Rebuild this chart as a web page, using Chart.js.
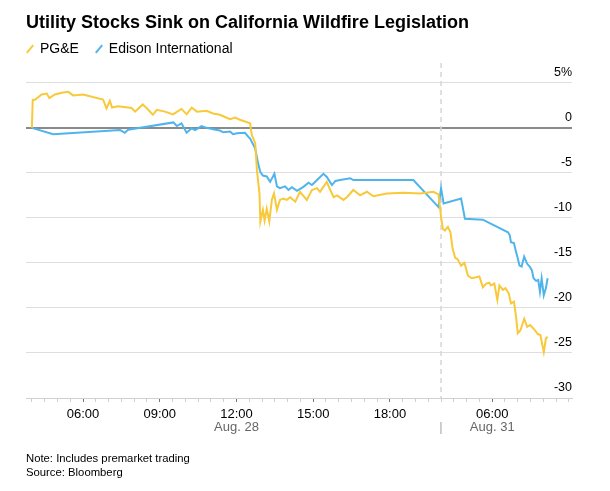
<!DOCTYPE html>
<html>
<head>
<meta charset="utf-8">
<script src="https://cdn.jsdelivr.net/npm/chart.js@4.4.0/dist/chart.umd.min.js"></script>
<style>
  body { margin: 0; background: #fff; }
  #wrap { position: relative; width: 610px; height: 491px; font-family: "Liberation Sans", Arial, sans-serif; color: #000; }
  #chart { position: absolute; left: 0; top: 0; }
  .title { position: absolute; left: 26px; top: 11px; font-size: 18px; line-height: 22px; font-weight: bold; }
  .legend { position: absolute; left: 26px; top: 39px; font-size: 14px; line-height: 18px; white-space: nowrap; }
  .legend .item { display: inline-block; margin-right: 12px; }
  .legend .sw { display: inline-block; width: 2px; height: 10px; margin: 0 9px 0 3px; transform: rotate(40deg); vertical-align: -1px; }
  .note { position: absolute; left: 26px; top: 452px; font-size: 11.3px; line-height: 13.5px; }
</style>
</head>
<body>
<div id="wrap">
  <canvas id="chart" width="610" height="491"></canvas>
  <div class="title">Utility Stocks Sink on California Wildfire Legislation</div>
  <div class="legend">
    <span class="item"><span class="sw" style="background:#f8c93a"></span>PG&amp;E</span>
    <span class="item"><span class="sw" style="background:#4fb4ec"></span>Edison International</span>
  </div>
  <div class="note">Note: Includes premarket trading<br>Source: Bloomberg</div>
</div>
<script>
// Thời gian giao dịch (ngày giờ) và % thay đổi của từng mã
const pgeTimes = [
  '28 04:00', '28 04:02', '28 04:08', '28 04:23', '28 04:35', '28 04:41', '28 04:54', '28 05:10',
  '28 05:25', '28 05:37', '28 06:00', '28 06:47', '28 06:55', '28 07:03', '28 07:08', '28 07:22',
  '28 07:54', '28 08:02', '28 08:20', '28 08:29', '28 08:44', '28 08:53', '28 09:12', '28 09:31',
  '28 09:51', '28 10:03', '28 10:15', '28 10:27', '28 10:50', '28 11:05', '28 11:21', '28 11:33',
  '28 11:45', '28 11:57', '28 12:08', '28 12:20', '28 12:32', '28 12:36', '28 12:44', '28 12:48', '28 12:54', '28 12:56',
  '28 13:02', '28 13:06', '28 13:11', '28 13:17', '28 13:23', '28 13:28', '28 13:35', '28 13:42',
  '28 13:50', '28 13:58', '28 14:06', '28 14:18', '28 14:29', '28 14:45', '28 14:57', '28 15:09',
  '28 15:16', '28 15:32', '28 15:40', '28 15:48', '28 15:56', '28 16:11', '28 16:19', '28 16:34',
  '28 16:50', '28 17:06', '28 17:21', '28 17:53', '28 18:32', '28 19:11', '28 19:42', '28 19:54',
  '31 04:00', '31 04:04', '31 04:09', '31 04:16', '31 04:22', '31 04:27', '31 04:33', '31 04:39',
  '31 04:47', '31 04:55', '31 05:03', '31 05:12', '31 05:22', '31 05:30', '31 05:38', '31 05:46',
  '31 05:53', '31 05:57', '31 06:05', '31 06:12', '31 06:17', '31 06:25', '31 06:31', '31 06:39',
  '31 06:44', '31 06:51', '31 06:56', '31 07:00', '31 07:06', '31 07:15', '31 07:22', '31 07:29',
  '31 07:39', '31 07:47', '31 07:53', '31 08:01', '31 08:06', '31 08:10'
];
const pgeValues = [
  0, 3.1, 3.15, 3.7, 3.8, 3.3, 3.7, 3.9,
  4.0, 3.6, 3.7, 3.15, 2.15, 3.0, 2.25, 2.4,
  2.2, 1.8, 2.6, 2.2, 1.45, 2.0, 1.8, 1.5,
  2.1, 1.5, 2.25, 1.8, 1.9, 1.6, 1.45, 1.2,
  0.95, 1.15, 0.9, 0.7, 0.5, -0.8, -1.7, -4.7, -7.3, -10.4,
  -9.1, -10.3, -9.0, -10.4, -8.0, -7.3, -9.1, -8.0,
  -7.85, -8.0, -7.7, -8.2, -7.1, -8.0, -6.9, -6.7,
  -7.1, -6.0, -6.9, -7.7, -7.5, -8.0, -7.7, -6.9,
  -7.5, -7.1, -7.6, -7.3, -7.2, -7.3, -7.1, -7.4,
  -9.9, -11.2, -11.4, -11.0, -11.6, -13.4, -14.4, -14.6,
  -15.3, -15.0, -16.4, -16.7, -16.6, -16.5, -17.7, -17.3,
  -17.2, -17.5, -17.3, -19.1, -17.5, -18.0, -17.8, -18.4,
  -19.5, -19.3, -21.0, -22.8, -22.5, -21.2, -22.1, -21.9,
  -22.4, -22.9, -23.0, -24.9, -23.4, -23.2
];
const sceTimes = [
  '28 04:00', '28 04:50', '28 07:27', '28 07:38', '28 07:46', '28 09:32', '28 09:40', '28 09:51',
  '28 10:03', '28 10:15', '28 10:23', '28 10:38', '28 10:50', '28 11:05', '28 11:21', '28 11:29',
  '28 11:45', '28 11:52', '28 12:01', '28 12:20', '28 12:28', '28 12:32', '28 12:44', '28 12:51',
  '28 12:56', '28 13:02', '28 13:11', '28 13:19', '28 13:29', '28 13:35', '28 13:42', '28 13:54',
  '28 14:02', '28 14:10', '28 14:22', '28 14:37', '28 14:49', '28 14:57', '28 15:09', '28 15:24',
  '28 15:32', '28 15:44', '28 15:52', '28 16:03', '28 16:27', '28 16:34', '28 18:55', '28 19:54',
  '31 04:00', '31 04:06', '31 04:47', '31 04:56', '31 05:38', '31 06:37', '31 06:41', '31 06:44',
  '31 06:51', '31 06:56', '31 07:00', '31 07:04', '31 07:09', '31 07:15', '31 07:22', '31 07:28',
  '31 07:33', '31 07:37', '31 07:43', '31 07:48', '31 07:52', '31 07:56', '31 08:01', '31 08:06',
  '31 08:10'
];
const sceValues = [
  0, -0.7, -0.25, -0.55, -0.2, 0.6, 0.2, 0.5,
  -0.55, -0.05, -0.25, 0.2, 0.0, -0.15, -0.3, -0.5,
  -0.4, -0.7, -0.6, -0.55, -1.0, -1.2, -2.3, -4.0,
  -4.9, -5.3, -5.4, -6.0, -5.1, -6.5, -6.7, -6.5,
  -6.9, -6.6, -7.0, -6.55, -6.1, -6.35, -5.8, -5.1,
  -5.45, -6.35, -5.9, -5.8, -5.6, -5.8, -5.8, -8.8,
  -6.7, -8.4, -7.85, -10.1, -10.2, -11.6, -11.9, -12.7,
  -12.8, -13.8, -14.5, -15.3, -15.4, -14.3, -15.1, -15.4,
  -15.8, -16.7, -17.0, -16.9, -18.2, -16.7, -18.6, -17.8,
  -16.7
];

// Nhãn trục
const yTicks = [5, 0, -5, -10, -15, -20, -25, -30];
const hourTicks = [6, 9, 12, 15, 18, 22];
const hourLabels = ['06:00', '09:00', '12:00', '15:00', '18:00', '06:00'];
const dayTicks = [12, 20, 22];
const dayLabels = ['Aug. 28', '|', 'Aug. 31'];

// Thu gọn khoảng nghỉ: 20:00 ngày 28 nối liền 04:00 ngày 31
const dayBreak = 20;
const xMin = 3.77, xMax = 25.12;

function toAxis(s) {
  const day = s.slice(0, 2);
  const h = +s.slice(3, 5) + (+s.slice(6, 8)) / 60;
  return day === '28' ? h : h + (dayBreak - 4);
}

const pgeData = pgeTimes.map((t, i) => ({ x: toAxis(t), y: pgeValues[i] }));
const sceData = sceTimes.map((t, i) => ({ x: toAxis(t), y: sceValues[i] }));

const font = 'Liberation Sans, Arial, sans-serif';

// Vẽ đường đứt nét phân cách hai phiên
const breakLine = {
  id: 'breakLine',
  beforeDatasetsDraw(chart) {
    const { ctx, chartArea } = chart;
    const x = chart.scales.x.getPixelForValue(dayBreak);
    ctx.save();
    ctx.strokeStyle = '#d6d6d6';
    ctx.lineWidth = 1.5;
    ctx.setLineDash([5, 4]);
    ctx.beginPath();
    ctx.moveTo(x, chartArea.top);
    ctx.lineTo(x, chartArea.bottom);
    ctx.stroke();
    ctx.restore();
  }
};

new Chart(document.getElementById('chart'), {
  type: 'line',
  data: {
    datasets: [
      { label: 'PG&E', data: pgeData, borderColor: '#f8c93a', borderWidth: 2, pointRadius: 0, tension: 0 },
      { label: 'Edison International', data: sceData, borderColor: '#4fb4ec', borderWidth: 2, pointRadius: 0, tension: 0 }
    ]
  },
  options: {
    responsive: false,
    animation: false,
    layout: { padding: { top: 63, left: 26, right: 38, bottom: 45 } },
    plugins: { legend: { display: false }, title: { display: false }, tooltip: { enabled: false } },
    scales: {
      x: {
        type: 'linear',
        min: xMin,
        max: xMax,
        afterBuildTicks(scale) {
          const ticks = [];
          for (let i = 8; i <= 50; i++) ticks.push({ value: i / 2 });
          scale.ticks = ticks;
        },
        afterFit(scale) { scale.height = 22; },
        grid: {
          drawOnChartArea: false,
          drawTicks: true,
          tickLength: 4,
          tickColor: c => hourTicks.includes(c.tick && c.tick.value) ? '#777' : '#cfcfcf'
        },
        border: { display: true, color: '#d0d0d0', width: 1 },
        ticks: {
          autoSkip: false,
          maxRotation: 0,
          padding: 5,
          color: '#000',
          font: { family: font, size: 13 },
          callback: v => {
            const k = hourTicks.indexOf(v);
            return k >= 0 ? hourLabels[k] : '';
          }
        }
      },
      x2: {
        type: 'linear',
        position: 'bottom',
        min: xMin,
        max: xMax,
        afterBuildTicks(scale) { scale.ticks = dayTicks.map(v => ({ value: v })); },
        afterFit(scale) { scale.height = 26; },
        grid: { display: false, drawTicks: false },
        border: { display: false },
        ticks: {
          autoSkip: false,
          maxRotation: 0,
          padding: 0,
          color: c => c.tick && c.tick.value === dayBreak ? '#aaa' : '#666',
          font: { family: font, size: 13 },
          callback: v => dayLabels[dayTicks.indexOf(v)]
        }
      },
      y: {
        position: 'right',
        min: -30,
        max: 7.2,
        afterBuildTicks(scale) { scale.ticks = yTicks.map(v => ({ value: v })); },
        afterFit(scale) { scale.width = 0; },
        grid: {
          drawTicks: false,
          color: c => c.tick.value === 0 ? '#8a8a8a' : (c.tick.value === -30 ? 'rgba(0,0,0,0)' : '#dedede'),
          lineWidth: c => c.tick.value === 0 ? 2 : 1
        },
        border: { display: false },
        ticks: {
          mirror: true,
          padding: 0,
          labelOffset: -10,
          color: '#000',
          font: { family: font, size: 12.5 },
          callback: v => v === 5 ? '5%' : String(v)
        }
      }
    }
  },
  plugins: [breakLine]
});
</script>
</body>
</html>
